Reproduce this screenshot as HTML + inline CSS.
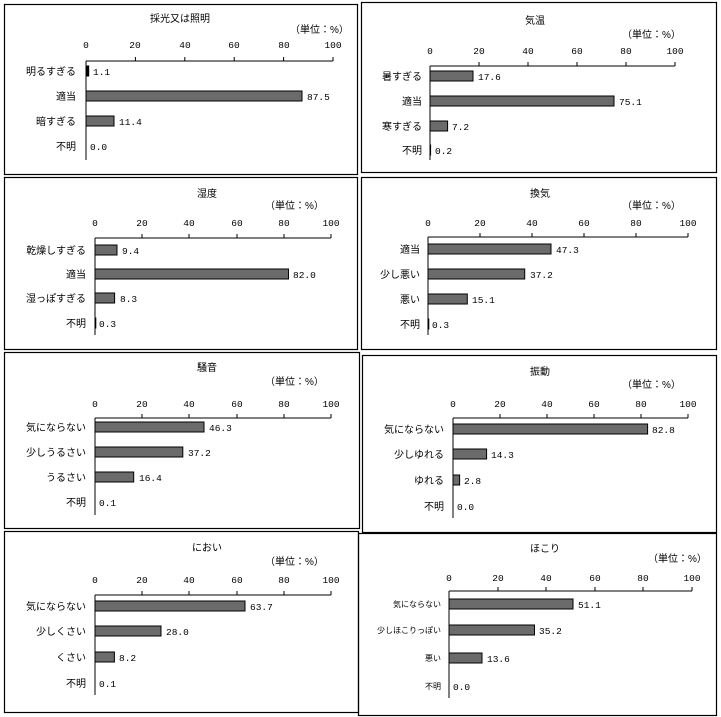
<!DOCTYPE html><html><head><meta charset="utf-8"><style>body{margin:0;background:#fff}svg{display:block}text{font-family:"Liberation Sans","Noto Sans CJK JP",sans-serif;font-size:10px;fill:#000}.v{font-family:"Liberation Mono","Noto Sans CJK JP",monospace;font-size:9.5px}.t{text-anchor:middle}.l{text-anchor:end}</style></head><body>
<svg width="721" height="717" viewBox="0 0 721 717" xmlns="http://www.w3.org/2000/svg">
<g fill="none" stroke="#000" stroke-width="1.2">
<rect x="4.5" y="4.5" width="353" height="170"/><rect x="361.5" y="2.5" width="355" height="170"/>
<rect x="4.5" y="177.5" width="353" height="172"/><rect x="361.5" y="177.5" width="355" height="172"/>
<rect x="4.5" y="352.5" width="355" height="176"/><rect x="362.5" y="355.5" width="354" height="177"/>
<rect x="4.5" y="531.5" width="354" height="181"/><rect x="358.5" y="533.5" width="358" height="182"/>
</g>
<g stroke="#000" stroke-width="1" fill="#6b6b6b">
<path d="M86 61H333M86 61V160M135.4 61v-4M184.8 61v-4M234.2 61v-4M283.6 61v-4M333 61v-4" fill="none"/>
<rect x="86" y="66" width="2.7" height="10" fill="#000"/><rect x="86" y="91" width="216" height="10"/><rect x="86" y="116" width="28" height="10"/>
<path d="M430 66H675M430 66V160M479 66v-4M528 66v-4M577 66v-4M626 66v-4M675 66v-4" fill="none"/>
<rect x="430" y="71" width="43" height="10"/><rect x="430" y="96" width="184" height="10"/><rect x="430" y="121" width="17.6" height="10"/><rect x="430" y="145" width="0.6" height="10"/>
<path d="M95 238H331M95 238V335M142 238v-4M189 238v-4M237 238v-4M284 238v-4M331 238v-4" fill="none"/>
<rect x="95" y="245" width="22" height="10"/><rect x="95" y="269" width="193.5" height="10"/><rect x="95" y="293" width="19.6" height="10"/><rect x="95" y="318" width="0.8" height="10"/>
<path d="M428 237H688M428 237V335M480 237v-4M532 237v-4M584 237v-4M636 237v-4M688 237v-4" fill="none"/>
<rect x="428" y="244" width="123" height="10"/><rect x="428" y="269" width="96.7" height="10"/><rect x="428" y="294" width="39.3" height="10"/><rect x="428" y="319" width="0.8" height="10"/>
<path d="M95 418H331M95 418V515M142 418v-4M189 418v-4M237 418v-4M284 418v-4M331 418v-4" fill="none"/>
<rect x="95" y="422" width="109" height="10"/><rect x="95" y="447" width="87.8" height="10"/><rect x="95" y="472" width="38.7" height="10"/>
<path d="M453 418H688M453 418V518M500 418v-4M547 418v-4M594 418v-4M641 418v-4M688 418v-4" fill="none"/>
<rect x="453" y="424" width="194.6" height="10"/><rect x="453" y="449" width="33.6" height="10"/><rect x="453" y="475" width="6.6" height="10"/>
<path d="M95 595H331M95 595V695M142 595v-4M189 595v-4M237 595v-4M284 595v-4M331 595v-4" fill="none"/>
<rect x="95" y="601" width="150" height="10"/><rect x="95" y="626" width="66" height="10"/><rect x="95" y="652" width="19.4" height="10"/>
<path d="M449 591H692M449 591V698M498 591v-4M546 591v-4M595 591v-4M643 591v-4M692 591v-4" fill="none"/>
<rect x="449" y="599" width="124" height="10"/><rect x="449" y="625" width="85.5" height="10"/><rect x="449" y="653" width="33" height="10"/>
</g>
<text x="180" y="22" class="t">採光又は照明</text><text x="290" y="33">（単位：%）</text>
<text x="86" y="48" class="v t">0</text><text x="135" y="48" class="v t">20</text><text x="185" y="48" class="v t">40</text><text x="234" y="48" class="v t">60</text><text x="284" y="48" class="v t">80</text><text x="333" y="48" class="v t">100</text>
<text x="76" y="75" class="l">明るすぎる</text><text x="76" y="100" class="l">適当</text><text x="76" y="125" class="l">暗すぎる</text><text x="76" y="150" class="l">不明</text>
<text x="93" y="75" class="v">1.1</text><text x="307" y="100" class="v">87.5</text><text x="119" y="125" class="v">11.4</text><text x="90" y="150" class="v">0.0</text>
<text x="535" y="24" class="t">気温</text><text x="622" y="38">（単位：%）</text>
<text x="430" y="54" class="v t">0</text><text x="479" y="54" class="v t">20</text><text x="528" y="54" class="v t">40</text><text x="577" y="54" class="v t">60</text><text x="626" y="54" class="v t">80</text><text x="675" y="54" class="v t">100</text>
<text x="422" y="80" class="l">暑すぎる</text><text x="422" y="105" class="l">適当</text><text x="422" y="130" class="l">寒すぎる</text><text x="422" y="154" class="l">不明</text>
<text x="478" y="80" class="v">17.6</text><text x="619" y="105" class="v">75.1</text><text x="452" y="130" class="v">7.2</text><text x="435" y="154" class="v">0.2</text>
<text x="207" y="197" class="t">湿度</text><text x="265" y="209">（単位：%）</text>
<text x="95" y="226" class="v t">0</text><text x="142" y="226" class="v t">20</text><text x="189" y="226" class="v t">40</text><text x="237" y="226" class="v t">60</text><text x="284" y="226" class="v t">80</text><text x="331" y="226" class="v t">100</text>
<text x="86" y="254" class="l">乾燥しすぎる</text><text x="86" y="278" class="l">適当</text><text x="86" y="302" class="l">湿っぽすぎる</text><text x="86" y="327" class="l">不明</text>
<text x="122" y="254" class="v">9.4</text><text x="293" y="278" class="v">82.0</text><text x="120" y="302" class="v">8.3</text><text x="99" y="327" class="v">0.3</text>
<text x="540" y="197" class="t">換気</text><text x="622" y="209">（単位：%）</text>
<text x="428" y="226" class="v t">0</text><text x="480" y="226" class="v t">20</text><text x="532" y="226" class="v t">40</text><text x="584" y="226" class="v t">60</text><text x="636" y="226" class="v t">80</text><text x="688" y="226" class="v t">100</text>
<text x="420" y="253" class="l">適当</text><text x="420" y="278" class="l">少し悪い</text><text x="420" y="303" class="l">悪い</text><text x="420" y="328" class="l">不明</text>
<text x="556" y="253" class="v">47.3</text><text x="530" y="278" class="v">37.2</text><text x="472" y="303" class="v">15.1</text><text x="432" y="328" class="v">0.3</text>
<text x="207" y="371" class="t">騒音</text><text x="265" y="385">（単位：%）</text>
<text x="95" y="407" class="v t">0</text><text x="142" y="407" class="v t">20</text><text x="189" y="407" class="v t">40</text><text x="237" y="407" class="v t">60</text><text x="284" y="407" class="v t">80</text><text x="331" y="407" class="v t">100</text>
<text x="86" y="431" class="l">気にならない</text><text x="86" y="456" class="l">少しうるさい</text><text x="86" y="481" class="l">うるさい</text><text x="86" y="506" class="l">不明</text>
<text x="209" y="431" class="v">46.3</text><text x="188" y="456" class="v">37.2</text><text x="139" y="481" class="v">16.4</text><text x="99" y="506" class="v">0.1</text>
<text x="540" y="375" class="t">振動</text><text x="622" y="388">（単位：%）</text>
<text x="453" y="407" class="v t">0</text><text x="500" y="407" class="v t">20</text><text x="547" y="407" class="v t">40</text><text x="594" y="407" class="v t">60</text><text x="641" y="407" class="v t">80</text><text x="688" y="407" class="v t">100</text>
<text x="444" y="433" class="l">気にならない</text><text x="444" y="458" class="l">少しゆれる</text><text x="444" y="484" class="l">ゆれる</text><text x="444" y="510" class="l">不明</text>
<text x="652" y="433" class="v">82.8</text><text x="491" y="458" class="v">14.3</text><text x="464" y="484" class="v">2.8</text><text x="457" y="510" class="v">0.0</text>
<text x="207" y="551" class="t">におい</text><text x="265" y="565">（単位：%）</text>
<text x="95" y="583" class="v t">0</text><text x="142" y="583" class="v t">20</text><text x="189" y="583" class="v t">40</text><text x="237" y="583" class="v t">60</text><text x="284" y="583" class="v t">80</text><text x="331" y="583" class="v t">100</text>
<text x="86" y="610" class="l">気にならない</text><text x="86" y="635" class="l">少しくさい</text><text x="86" y="661" class="l">くさい</text><text x="86" y="687" class="l">不明</text>
<text x="250" y="610" class="v">63.7</text><text x="166" y="635" class="v">28.0</text><text x="119" y="661" class="v">8.2</text><text x="99" y="687" class="v">0.1</text>
<text x="545" y="552" class="t">ほこり</text><text x="648" y="562">（単位：%）</text>
<text x="449" y="581" class="v t">0</text><text x="498" y="581" class="v t">20</text><text x="546" y="581" class="v t">40</text><text x="595" y="581" class="v t">60</text><text x="643" y="581" class="v t">80</text><text x="692" y="581" class="v t">100</text>
<text x="441" y="607" class="l" style="font-size:8px">気にならない</text><text x="441" y="633" class="l" style="font-size:8px">少しほこりっぽい</text><text x="441" y="661" class="l" style="font-size:8px">悪い</text><text x="441" y="689" class="l" style="font-size:8px">不明</text>
<text x="578" y="608" class="v">51.1</text><text x="539" y="634" class="v">35.2</text><text x="487" y="662" class="v">13.6</text><text x="453" y="690" class="v">0.0</text>
</svg></body></html>
